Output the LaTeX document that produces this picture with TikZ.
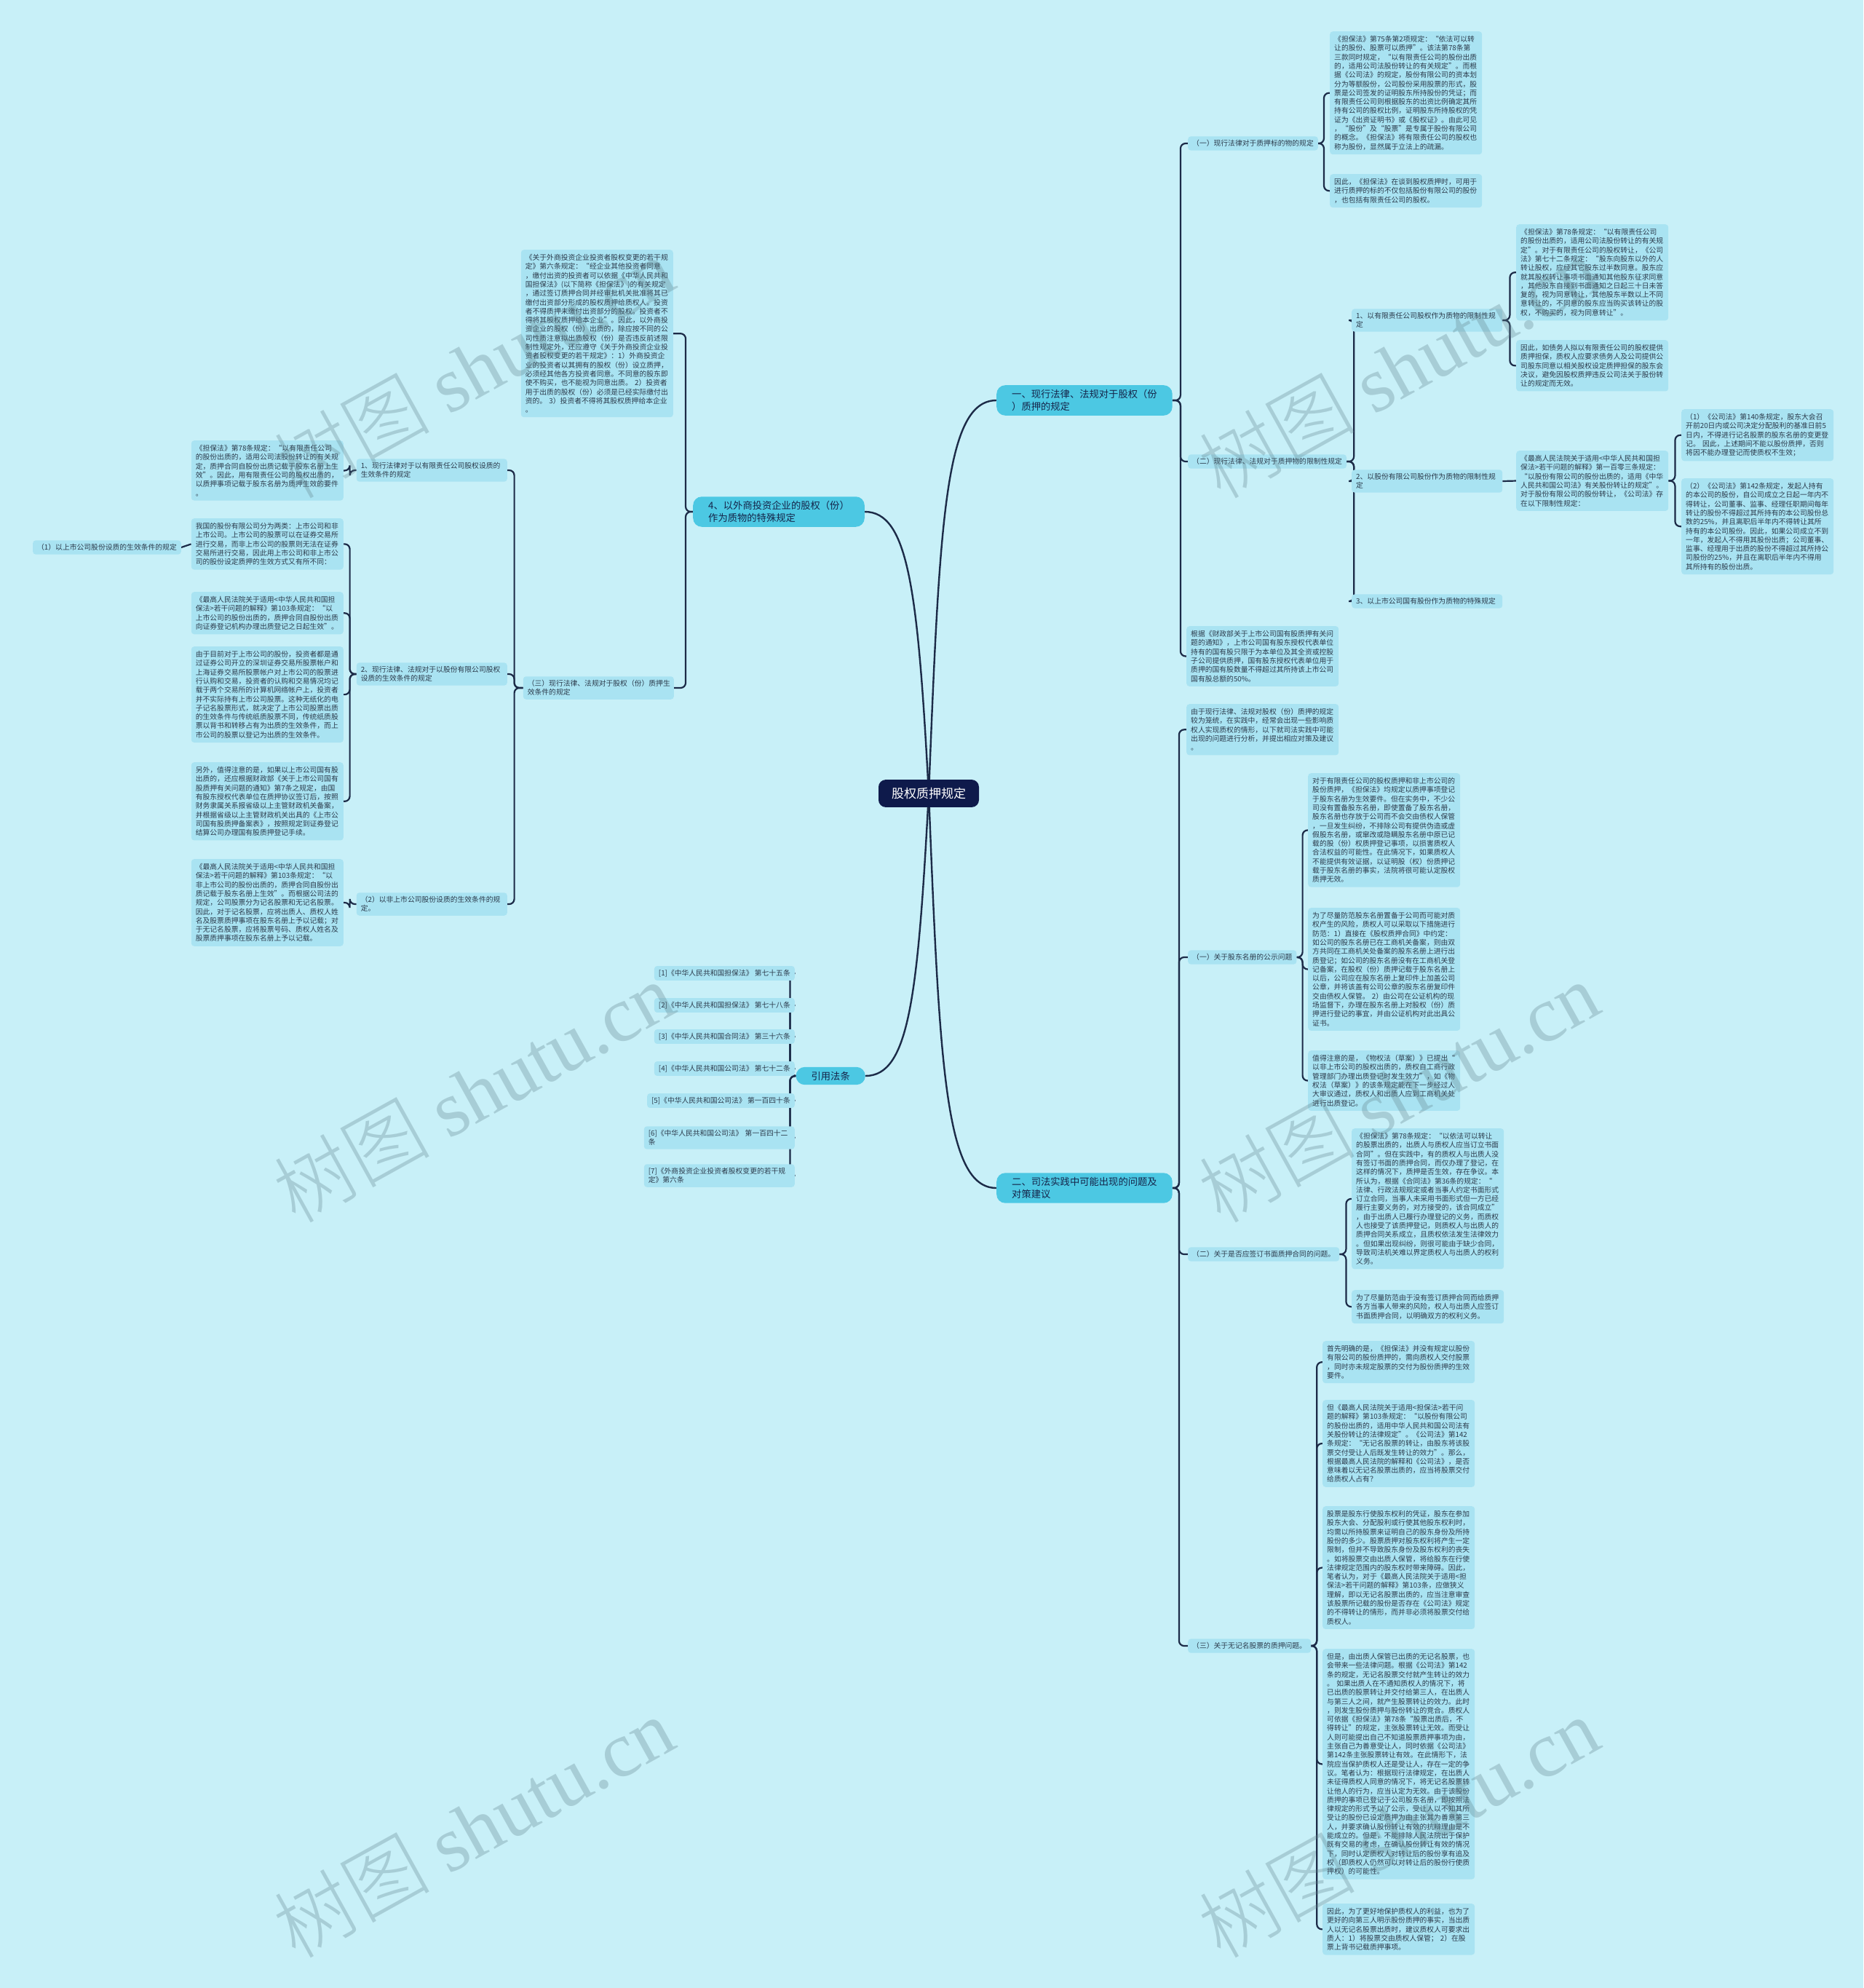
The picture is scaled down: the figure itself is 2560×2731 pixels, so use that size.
\documentclass[tikz,border=0pt]{standalone}
\usepackage{fontspec}
\setmainfont{Noto Sans CJK SC}
\newfontfamily\wmlatin{Liberation Serif}
\newfontfamily\wmcjk{Noto Sans CJK SC Light}
\definecolor{bgc}{HTML}{C8F0F8}
\definecolor{pfill}{HTML}{A9E3F2}
\definecolor{ptext}{HTML}{2C3B4C}
\definecolor{lvc}{HTML}{4CC8E3}
\definecolor{lvtext}{HTML}{15254A}
\definecolor{rootc}{HTML}{0E1A4B}
\definecolor{linec}{HTML}{1C2B48}
\definecolor{wmc}{HTML}{5E7F88}
\pgfdeclarelayer{bg}
\pgfdeclarelayer{lines}
\pgfsetlayers{bg,lines,main}
\tikzset{
  conn/.style={draw=linec, line width=2.2pt, rounded corners=7pt},
  rootconn/.style={draw=linec, line width=2.4pt},
  rootnode/.style={fill=rootc, text=white, rounded corners=10pt, font=\fontsize{17}{20}\selectfont, inner xsep=18pt, inner ysep=11pt},
  lvlone/.style={fill=lvc, text=lvtext, rounded corners=12pt, font=\fontsize{13.3}{17}\selectfont, align=left, inner xsep=21pt, inner ysep=6pt},
  lab/.style={fill=pfill, text=ptext, rounded corners=4pt, font=\fontsize{9.8}{12.3}\selectfont, align=left, inner xsep=6pt, inner ysep=5pt},
  labw/.style={lab, text width=195pt},
  para/.style={lab, text width=197pt, inner ysep=6pt, anchor=north west},
  parar/.style={lab, text width=197pt, inner ysep=6pt, anchor=north east},
  wm/.style={text=wmc, opacity=0.3, font=\fontsize{108}{108}\selectfont, rotate=29},
}
\begin{document}
\begin{tikzpicture}[x=1pt,y=-1pt]
\begin{pgfonlayer}{bg}
\fill[bgc] (0,0) rectangle (2560,2731);
\end{pgfonlayer}
\useasboundingbox (0,0) rectangle (2560,2731);

% root and main branches
\node[rootnode] (root) at (1276,1090) {股权质押规定};
\node[lvlone, anchor=west] (b1) at (1369,550) {一、现行法律、法规对于股权（份\\）质押的规定};
\node[lvlone, anchor=west] (b2) at (1369,1632) {二、司法实践中可能出现的问题及\\对策建议};
\node[lvlone, anchor=east] (b4) at (1188,703) {4、以外商投资企业的股权（份）\\作为质物的特殊规定};
\node[lvlone, anchor=east] (b5) at (1189,1478) {引用法条};

% ---------- branch 一 ----------
\node[lab, anchor=west] (l11) at (1632,197) {（一）现行法律对于质押标的物的规定};
\node[lab, anchor=west] (l12) at (1632,634) {（二）现行法律、法规对于质押物的限制性规定};
\node[para] (r1) at (1630,860) {根据《财政部关于上市公司国有股质押有关问\\题的通知》，上市公司国有股东授权代表单位\\持有的国有股只限于为本单位及其全资或控股\\子公司提供质押，国有股东授权代表单位用于\\质押的国有股数量不得超过其所持该上市公司\\国有股总额的50\%。};

\node[para] (p1) at (1827,43) {《担保法》第75条第2项规定：“依法可以转\\让的股份、股票可以质押”。该法第78条第\\三款同时规定，“以有限责任公司的股份出质\\的，适用公司法股份转让的有关规定”。而根\\据《公司法》的规定，股份有限公司的资本划\\分为等额股份，公司股份采用股票的形式，股\\票是公司签发的证明股东所持股份的凭证；而\\有限责任公司则根据股东的出资比例确定其所\\持有公司的股权比例，证明股东所持股权的凭\\证为《出资证明书》或《股权证》。由此可见\\，“股份”及“股票”是专属于股份有限公司\\的概念。《担保法》将有限责任公司的股权也\\称为股份，显然属于立法上的疏漏。};
\node[para] (p2) at (1827,239) {因此，《担保法》在谈到股权质押时，可用于\\进行质押的标的不仅包括股份有限公司的股份\\，也包括有限责任公司的股权。};

\node[labw, anchor=west] (la1) at (1857,440) {1、以有限责任公司股权作为质物的限制性规\\定};
\node[labw, anchor=west] (la2) at (1857,661) {2、以股份有限公司股份作为质物的限制性规\\定};
\node[labw, anchor=west] (la3) at (1857,826) {3、以上市公司国有股份作为质物的特殊规定};

\node[para] (c1) at (2083,308) {《担保法》第78条规定：“以有限责任公司\\的股份出质的，适用公司法股份转让的有关规\\定”。对于有限责任公司的股权转让，《公司\\法》第七十二条规定：“股东向股东以外的人\\转让股权，应经其它股东过半数同意。股东应\\就其股权转让事项书面通知其他股东征求同意\\，其他股东自接到书面通知之日起三十日未答\\复的，视为同意转让，其他股东半数以上不同\\意转让的，不同意的股东应当购买该转让的股\\权，不购买的，视为同意转让”。};
\node[para] (c2) at (2083,467) {因此，如债务人拟以有限责任公司的股权提供\\质押担保，质权人应要求债务人及公司提供公\\司股东同意以相关股权设定质押担保的股东会\\决议，避免因股权质押违反公司法关于股份转\\让的规定而无效。};
\node[para] (d1) at (2083,619) {《最高人民法院关于适用<中华人民共和国担\\保法>若干问题的解释》第一百零三条规定：\\“以股份有限公司的股份出质的，适用《中华\\人民共和国公司法》有关股份转让的规定”。\\对于股份有限公司的股份转让，《公司法》存\\在以下限制性规定：};
\node[para] (d11) at (2310,562) {（1）《公司法》第140条规定，股东大会召\\开前20日内或公司决定分配股利的基准日前5\\日内，不得进行记名股票的股东名册的变更登\\记。 因此，上述期间不能以股份质押，否则\\将因不能办理登记而使质权不生效；};
\node[para] (d12) at (2310,657) {（2）《公司法》第142条规定，发起人持有\\的本公司的股份，自公司成立之日起一年内不\\得转让，公司董事、监事、经理任职期间每年\\转让的股份不得超过其所持有的本公司股份总\\数的25\%，并且离职后半年内不得转让其所\\持有的本公司股份。因此，如果公司成立不到\\一年，发起人不得用其股份出质；公司董事、\\监事、经理用于出质的股份不得超过其所持公\\司股份的25\%，并且在离职后半年内不得用\\其所持有的股份出质。};

% ---------- branch 二 ----------
\node[para] (r2) at (1630,967) {由于现行法律、法规对股权（份）质押的规定\\较为笼统，在实践中，经常会出现一些影响质\\权人实现质权的情形，以下就司法实践中可能\\出现的问题进行分析，并提出相应对策及建议\\。};
\node[lab, anchor=west] (l21) at (1632,1315) {（一）关于股东名册的公示问题};
\node[lab, anchor=west] (l22) at (1632,1723) {（二）关于是否应签订书面质押合同的问题。};
\node[lab, anchor=west] (l23) at (1632,2261) {（三）关于无记名股票的质押问题。};

\node[para] (e1) at (1797,1062) {对于有限责任公司的股权质押和非上市公司的\\股份质押，《担保法》均规定以质押事项登记\\于股东名册为生效要件。但在实务中，不少公\\司没有置备股东名册，即使置备了股东名册，\\股东名册也存放于公司而不会交由债权人保管\\，一旦发生纠纷，不排除公司有提供伪造或虚\\假股东名册，或窜改或隐瞒股东名册中原已记\\载的股（份）权质押登记事项，以损害质权人\\合法权益的可能性。在此情况下，如果质权人\\不能提供有效证据，以证明股（权）份质押记\\载于股东名册的事实，法院将很可能认定股权\\质押无效。};
\node[para] (e2) at (1797,1247) {为了尽量防范股东名册置备于公司而可能对质\\权产生的风险，质权人可以采取以下措施进行\\防范：1）直接在《股权质押合同》中约定：\\如公司的股东名册已在工商机关备案，则由双\\方共同在工商机关处备案的股东名册上进行出\\质登记；如公司的股东名册没有在工商机关登\\记备案，在股权（份）质押记载于股东名册上\\以后，公司应在股东名册上复印件上加盖公司\\公章，并将该盖有公司公章的股东名册复印件\\交由债权人保管。 2）由公司在公证机构的现\\场监督下，办理在股东名册上对股权（份）质\\押进行登记的事宜，并由公证机构对此出具公\\证书。};
\node[para] (e3) at (1797,1443) {值得注意的是，《物权法（草案）》已提出“\\以非上市公司的股权出质的，质权自工商行政\\管理部门办理出质登记时发生效力”，如《物\\权法（草案）》的该条规定能在下一步经过人\\大审议通过，质权人和出质人应到工商机关处\\进行出质登记。};

\node[para] (f1) at (1857,1550) {《担保法》第78条规定：“以依法可以转让\\的股票出质的，出质人与质权人应当订立书面\\合同”。但在实践中，有的质权人与出质人没\\有签订书面的质押合同，而仅办理了登记，在\\这样的情况下，质押是否生效，存在争议。本\\所认为，根据《合同法》第36条的规定：“\\法律、行政法规规定或者当事人约定书面形式\\订立合同，当事人未采用书面形式但一方已经\\履行主要义务的，对方接受的，该合同成立”\\，由于出质人已履行办理登记的义务，而质权\\人也接受了该质押登记，则质权人与出质人的\\质押合同关系成立，且质权依法发生法律效力\\。但如果出现纠纷，则很可能由于缺少合同，\\导致司法机关难以界定质权人与出质人的权利\\义务。};
\node[para] (f2) at (1857,1772) {为了尽量防范由于没有签订质押合同而给质押\\各方当事人带来的风险，权人与出质人应签订\\书面质押合同，以明确双方的权利义务。};

\node[para] (g1) at (1817,1842) {首先明确的是，《担保法》并没有规定以股份\\有限公司的股份质押的，需向质权人交付股票\\，同时亦未规定股票的交付为股份质押的生效\\要件。};
\node[para] (g2) at (1817,1923) {但《最高人民法院关于适用<担保法>若干问\\题的解释》第103条规定：“以股份有限公司\\的股份出质的，适用中华人民共和国公司法有\\关股份转让的法律规定”。《公司法》第142\\条规定：“无记名股票的转让，由股东将该股\\票交付受让人后既发生转让的效力”。那么，\\根据最高人民法院的解释和《公司法》，是否\\意味着以无记名股票出质的，应当将股票交付\\给质权人占有？};
\node[para] (g3) at (1817,2069) {股票是股东行使股东权利的凭证，股东在参加\\股东大会、分配股利或行使其他股东权利时，\\均需以所持股票来证明自己的股东身份及所持\\股份的多少。股票质押对股东权利将产生一定\\限制，但并不导致股东身份及股东权利的丧失\\。如将股票交由出质人保管，将给股东在行使\\法律规定范围内的股东权时带来障碍。因此，\\笔者认为，对于《最高人民法院关于适用<担\\保法>若干问题的解释》第103条，应做狭义\\理解，即以无记名股票出质的，应当注意审查\\该股票所记载的股份是否存在《公司法》规定\\的不得转让的情形，而并非必须将股票交付给\\质权人。};
\node[para] (g4) at (1817,2265) {但是，由出质人保管已出质的无记名股票，也\\会带来一些法律问题。根据《公司法》第142\\条的规定，无记名股票交付就产生转让的效力\\。 如果出质人在不通知质权人的情况下，将\\已出质的股票转让并交付给第三人，在出质人\\与第三人之间，就产生股票转让的效力。此时\\，则发生股份质押与股份转让的竞合。质权人\\可依据《担保法》第78条“股票出质后，不\\得转让”的规定，主张股票转让无效。而受让\\人则可能提出自己不知道股票质押事项为由，\\主张自己为善意受让人，同时依据《公司法》\\第142条主张股票转让有效。在此情形下，法\\院应当保护质权人还是受让人，存在一定的争\\议。笔者认为：根据现行法律规定，在出质人\\未征得质权人同意的情况下，将无记名股票转\\让他人的行为，应当认定为无效。由于该股份\\质押的事项已登记于公司股东名册，即按照法\\律规定的形式予以了公示，受让人以不知其所\\受让的股份已设定质押为由主张其为善意第三\\人，并要求确认股份转让有效的抗辩理由是不\\能成立的。但是，不能排除人民法院出于保护\\既有交易的考虑，在确认股份转让有效的情况\\下，同时认定质权人对转让后的股份享有追及\\权（即质权人仍然可以对转让后的股份行使质\\押权）的可能性。};
\node[para] (g5) at (1817,2615) {因此，为了更好地保护质权人的利益，也为了\\更好的向第三人明示股份质押的事实，当出质\\人以无记名股票出质时，建议质权人可要求出\\质人：1）将股票交由质权人保管； 2）在股\\票上背书记载质押事项。};

% ---------- branch 4 (left) ----------
\node[parar] (h1) at (925,343) {《关于外商投资企业投资者股权变更的若干规\\定》第六条规定：“经企业其他投资者同意\\，缴付出资的投资者可以依据《中华人民共和\\国担保法》(以下简称《担保法》)的有关规定\\，通过签订质押合同并经审批机关批准将其已\\缴付出资部分形成的股权质押给质权人。投资\\者不得质押未缴付出资部分的股权。投资者不\\得将其股权质押给本企业”。因此，以外商投\\资企业的股权（份）出质的，除应按不同的公\\司性质注意拟出质股权（份）是否违反前述限\\制性规定外，还应遵守《关于外商投资企业投\\资者股权变更的若干规定》：1）外商投资企\\业的投资者以其拥有的股权（份）设立质押，\\必须经其他各方投资者同意。不同意的股东即\\使不购买，也不能视为同意出质。 2）投资者\\用于出质的股权（份）必须是已经实际缴付出\\资的。 3）投资者不得将其股权质押给本企业\\。};
\node[labw, anchor=east] (l3) at (926,945) {（三）现行法律、法规对于股权（份）质押生\\效条件的规定};
\node[labw, anchor=east] (lb1) at (697,646) {1、现行法律对于以有限责任公司股权设质的\\生效条件的规定};
\node[labw, anchor=east] (lb2) at (697,926) {2、现行法律、法规对于以股份有限公司股权\\设质的生效条件的规定};
\node[labw, anchor=east] (lb3) at (697,1242) {（2）以非上市公司股份设质的生效条件的规\\定。};
\node[lab, anchor=east] (lb4) at (249,752) {（1）以上市公司股份设质的生效条件的规定};

\node[parar] (i1) at (472,605) {《担保法》第78条规定：“以有限责任公司\\的股份出质的，适用公司法股份转让的有关规\\定，质押合同自股份出质记载于股东名册上生\\效”。因此，用有限责任公司的股权出质的，\\以质押事项记载于股东名册为质押生效的要件\\。};
\node[parar] (i2) at (472,712) {我国的股份有限公司分为两类：上市公司和非\\上市公司。上市公司的股票可以在证券交易所\\进行交易，而非上市公司的股票则无法在证券\\交易所进行交易，因此用上市公司和非上市公\\司的股份设定质押的生效方式又有所不同：};
\node[parar] (i3) at (472,813) {《最高人民法院关于适用<中华人民共和国担\\保法>若干问题的解释》第103条规定：“以\\上市公司的股份出质的，质押合同自股份出质\\向证券登记机构办理出质登记之日起生效”。};
\node[parar] (i4) at (472,888) {由于目前对于上市公司的股份，投资者都是通\\过证券公司开立的深圳证券交易所股票帐户和\\上海证券交易所股票帐户对上市公司的股票进\\行认购和交易，投资者的认购和交易情况均记\\载于两个交易所的计算机网络帐户上，投资者\\并不实际持有上市公司股票。这种无纸化的电\\子记名股票形式，就决定了上市公司股票出质\\的生效条件与传统纸质股票不同，传统纸质股\\票以背书和转移占有为出质的生效条件，而上\\市公司的股票以登记为出质的生效条件。};
\node[parar] (i5) at (472,1047) {另外，值得注意的是，如果以上市公司国有股\\出质的，还应根据财政部《关于上市公司国有\\股质押有关问题的通知》第7条之规定，由国\\有股东授权代表单位在质押协议签订后，按照\\财务隶属关系报省级以上主管财政机关备案，\\并根据省级以上主管财政机关出具的《上市公\\司国有股质押备案表》，按照规定到证券登记\\结算公司办理国有股质押登记手续。};
\node[parar] (i6) at (472,1180) {《最高人民法院关于适用<中华人民共和国担\\保法>若干问题的解释》第103条规定：“以\\非上市公司的股份出质的，质押合同自股份出\\质记载于股东名册上生效”。而根据公司法的\\规定，公司股票分为记名股票和无记名股票。\\因此，对于记名股票，应将出质人、质权人姓\\名及股票质押事项在股东名册上予以记载；对\\于无记名股票，应将股票号码、质权人姓名及\\股票质押事项在股东名册上予以记载。};

% ---------- citations ----------
\node[lab, anchor=east] (cit1) at (1092,1337) {[1]《中华人民共和国担保法》 第七十五条};
\node[lab, anchor=east] (cit2) at (1092,1381) {[2]《中华人民共和国担保法》 第七十八条};
\node[lab, anchor=east] (cit3) at (1092,1424) {[3]《中华人民共和国合同法》 第三十六条};
\node[lab, anchor=east] (cit4) at (1092,1468) {[4]《中华人民共和国公司法》 第七十二条};
\node[lab, anchor=east] (cit5) at (1092,1512) {[5]《中华人民共和国公司法》 第一百四十条};
\node[lab, anchor=east, text width=195pt] (cit6) at (1092,1563) {[6]《中华人民共和国公司法》 第一百四十二\\条};
\node[lab, anchor=east, text width=195pt] (cit7) at (1092,1615) {[7]《外商投资企业投资者股权变更的若干规\\定》第六条};

% ---------- connectors ----------
\begin{pgfonlayer}{lines}
\draw[rootconn] (root.center) .. controls +(15,-380) and +(-70,0) .. (b1.west);
\draw[rootconn] (root.center) .. controls +(15,380) and +(-70,0) .. (b2.west);
\draw[rootconn] (root.center) .. controls +(-15,-280) and +(60,0) .. (b4.east);
\draw[rootconn] (root.center) .. controls +(-15,280) and +(60,0) .. (b5.east);

\foreach \c in {l11,l12,r1} \draw[conn] (b1.east) -- ++(11,0) |- (\c.west);
\foreach \c in {p1,p2} \draw[conn] (l11.east) -- ++(8,0) |- (\c.west);
\foreach \c in {la1,la2,la3} \draw[conn] (l12.east) -- ++(10,0) |- (\c.west);
\foreach \c in {c1,c2} \draw[conn] (la1.east) -- ++(10,0) |- (\c.west);
\draw[conn] (la2.east) -- (d1.west);
\foreach \c in {d11,d12} \draw[conn] (d1.east) -- ++(9,0) |- (\c.west);

\foreach \c in {r2,l21,l22,l23} \draw[conn] (b2.east) -- ++(9,0) |- (\c.west);
\foreach \c in {e1,e2,e3} \draw[conn] (l21.east) -- ++(8,0) |- (\c.west);
\foreach \c in {f1,f2} \draw[conn] (l22.east) -- ++(9,0) |- (\c.west);
\foreach \c in {g1,g2,g3,g4,g5} \draw[conn] (l23.east) -- ++(8,0) |- (\c.west);

\foreach \c in {h1,l3} \draw[conn] (b4.west) -- ++(-10,0) |- (\c.east);
\foreach \c in {lb1,lb2,lb3} \draw[conn] (l3.west) -- ++(-12,0) |- (\c.east);
\draw[conn] (lb1.west) -- ++(-9,0) |- (i1.east);
\foreach \c in {i2,i3,i4,i5} \draw[conn] (lb2.west) -- ++(-9,0) |- (\c.east);
\draw[conn] (lb3.west) -- ++(-9,0) |- (i6.east);
\draw[conn] (i2.west) -- (lb4.east);
\foreach \c in {cit1,cit2,cit3,cit4,cit5,cit6,cit7} \draw[conn] (b5.west) -- ++(-8,0) |- (\c.east);
\end{pgfonlayer}

% ---------- watermarks ----------
\foreach \wx/\wy [count=\k] in {650/505,650/1500,650/2510,1921/505,1921/1500,1921/2510}
  \node[wm] (wm\k) at (\wx,\wy) {{\wmcjk 树图} {\wmlatin shutu.cn}};
\end{tikzpicture}
\end{document}
